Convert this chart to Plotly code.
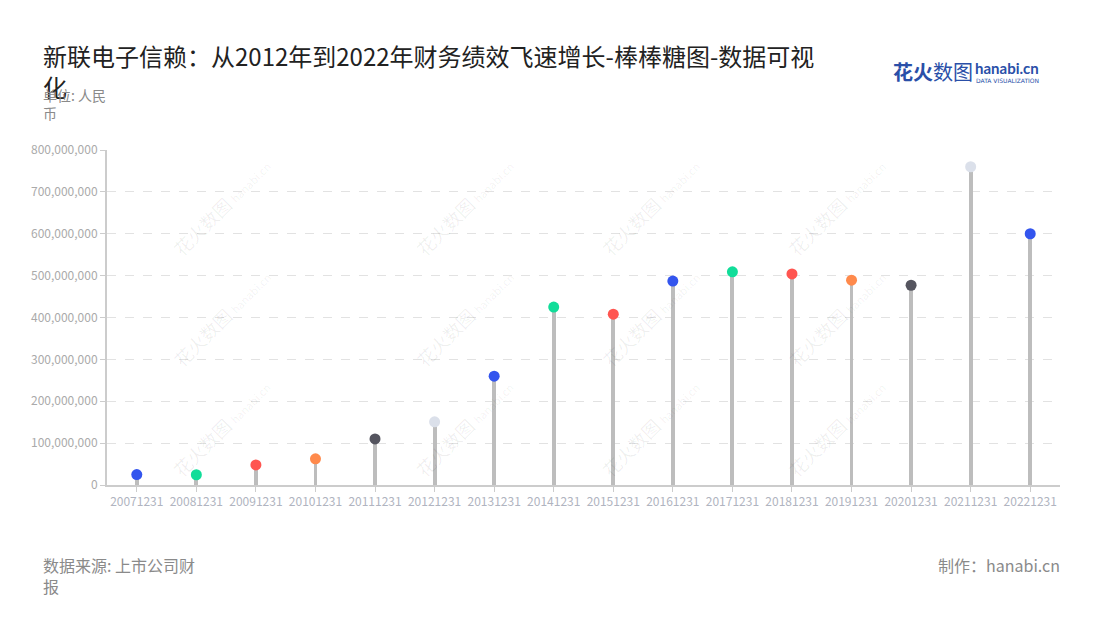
import plotly.graph_objects as go

categories = ["20071231", "20081231", "20091231", "20101231", "20111231", "20121231",
              "20131231", "20141231", "20151231", "20161231", "20171231", "20181231",
              "20191231", "20201231", "20211231", "20221231"]
values = [25_000_000, 24_500_000, 48_000_000, 62_500_000, 110_000_000, 151_000_000,
          260_000_000, 425_000_000, 408_000_000, 487_000_000, 509_000_000, 504_000_000,
          489_000_000, 477_000_000, 760_000_000, 600_000_000]
point_colors = ["#3355ee", "#11dd99", "#ff5550", "#ff8a4c", "#55555f", "#dbe0ea",
                "#3355ee", "#11dd99", "#ff5550", "#3355ee", "#11dd99", "#ff5550",
                "#ff8a4c", "#55555f", "#dbe0ea", "#3355ee"]
y_ticks = [0, 100_000_000, 200_000_000, 300_000_000, 400_000_000,
           500_000_000, 600_000_000, 700_000_000, 800_000_000]

FONT = "Noto Sans CJK SC, Noto Sans, sans-serif"
LX = -0.0695

fig = go.Figure()
fig.add_trace(go.Bar(x=categories, y=values, width=0.065, marker_color="#bdbdbd",
                     marker_line_width=0, hoverinfo="skip", showlegend=False))
fig.add_trace(go.Scatter(x=categories, y=values, mode="markers",
                         marker=dict(size=11, color=point_colors, line=dict(width=0)),
                         showlegend=False))

annotations = []
# watermarks
for wx in [0.06, 0.315, 0.57, 0.825]:
    for wy in [1.0, 0.5, 0.0]:
        annotations.append(dict(text="花火数图 <span style='font-size:11px'>hanabi.cn</span>",
                                xref="paper", yref="paper", x=wx, y=wy, showarrow=False,
                                textangle=-45, font=dict(size=18, color="rgba(0,0,0,0.065)",
                                                         family=FONT)))
annotations += [
    dict(text="新联电子信赖：从2012年到2022年财务绩效飞速增长-棒棒糖图-数据可视",
         xref="paper", yref="paper", x=LX, y=1.283, xanchor="left", yanchor="middle",
         align="left", showarrow=False, font=dict(size=24, color="#222222", family=FONT)),
    dict(text="化",
         xref="paper", yref="paper", x=LX, y=1.19, xanchor="left", yanchor="middle",
         align="left", showarrow=False, font=dict(size=24, color="#222222", family=FONT)),
    dict(text="单位: 人民<br>币", xref="paper", yref="paper", x=LX, y=1.2,
         xanchor="left", yanchor="top", align="left", showarrow=False,
         font=dict(size=14, color="#8a8a8a", family=FONT)),
    dict(text="数据来源: 上市公司财<br>报", xref="paper", yref="paper", x=LX, y=-0.197,
         xanchor="left", yanchor="top", align="left", showarrow=False,
         font=dict(size=16, color="#8a8a8a", family=FONT)),
    dict(text="制作：hanabi.cn", xref="paper", yref="paper", x=1.002, y=-0.197,
         xanchor="right", yanchor="top", align="right", showarrow=False,
         font=dict(size=16, color="#8a8a8a", family=FONT)),
    dict(text="<b>花火</b>数图", xref="paper", yref="paper", x=0.823, y=1.233,
         xanchor="left", yanchor="middle", showarrow=False,
         font=dict(size=20, color="#2a4fa8", family=FONT)),
    dict(text="<b>hanabi.cn</b>", xref="paper", yref="paper", x=0.909, y=1.245,
         xanchor="left", yanchor="middle", showarrow=False,
         font=dict(size=15, color="#2a4fa8", family="Lato, sans-serif")),
    dict(text="DATA VISUALIZATION", xref="paper", yref="paper", x=0.910, y=1.207,
         xanchor="left", yanchor="middle", showarrow=False,
         font=dict(size=6, color="#2a4fa8", family="DejaVu Sans")),
]

fig.update_layout(
    width=1092, height=612,
    margin=dict(l=99, r=40, t=142, b=135),
    paper_bgcolor="white", plot_bgcolor="white",
    font=dict(family=FONT),
    bargap=0,
    annotations=annotations,
    xaxis=dict(type="category", range=[-0.5, len(categories) - 0.5],
               showline=True, linecolor="#cccccc", linewidth=2,
               ticks="outside", ticklen=5, tickcolor="#cccccc", tickwidth=1,
               tickfont=dict(size=12, color="#b0b4c0"), showgrid=False, zeroline=False),
    yaxis=dict(range=[0, 800_000_000], tickvals=y_ticks,
               ticktext=[f"{v:,}" for v in y_ticks],
               showline=True, linecolor="#cccccc", linewidth=2,
               ticks="outside", ticklen=5, tickcolor="#cccccc",
               tickfont=dict(size=12, color="#aaaaaa"),
               showgrid=True, gridcolor="#e2e2e2", griddash="dash", gridwidth=1,
               zeroline=False),
)

fig.write_html("out.html")
